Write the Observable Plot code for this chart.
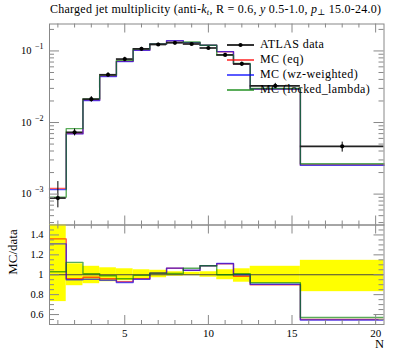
<!DOCTYPE html>
<html><head><meta charset="utf-8">
<script src="https://cdn.jsdelivr.net/npm/d3@7"></script>
<script src="https://cdn.jsdelivr.net/npm/@observablehq/plot@0.6"></script>
<style>
body{margin:0;background:#fff;}
#wrap{position:relative;width:397px;height:358px;overflow:hidden;font-family:"Liberation Serif","DejaVu Serif",serif;color:#000;}
#title{position:absolute;left:50px;top:2px;font-size:12px;letter-spacing:0.25px;white-space:nowrap;}
#title sub{font-size:8.5px;vertical-align:-2px;line-height:0;}
.svgbox{position:absolute;left:0;}
.leg{position:absolute;left:227px;font-size:12px;letter-spacing:0.4px;white-space:nowrap;height:14px;line-height:14px;}
.leg svg{vertical-align:middle;margin-right:6px;}
</style></head>
<body><div id="wrap">
<div id="title">Charged jet multiplicity (anti-<i>k<sub>t</sub></i>, R = 0.6, <i>y</i> 0.5-1.0, <i>p</i><sub>⊥</sub> 15.0-24.0)</div>
</div>
<script>
// ---- data ----
const binLo  = [0.5,1.5,2.5,3.5,4.5,5.5,6.5,7.5,8.5,9.5,10.5,11.5,12.5,15.5];
const binHi  = [1.5,2.5,3.5,4.5,5.5,6.5,7.5,8.5,9.5,10.5,11.5,12.5,15.5,20.5];
const binMid = [1,2,3,4,5,6,7,8,9,10,11,12,14,18];
const atlas        = [8.8e-4,7.3e-3,0.0212,0.0465,0.077,0.107,0.123,0.130,0.125,0.110,0.088,0.066,0.0325,0.00465];
const atlasErrDown = [0.27,0.11,0.09,0.07,0.06,0.045,0.03,0.015,0.01,0.025,0.05,0.075,0.085,0.17]; // relative
const atlasErrUp   = [0.70,0.11,0.085,0.07,0.06,0.05,0.045,0.03,0.025,0.03,0.05,0.06,0.085,0.145]; // relative
const mcEq     = [1.197e-3,7.01e-3,0.02067,0.04464,0.07161,0.1027,0.1250,0.1385,0.1305,0.1199,0.0977,0.0650,0.02925,0.002558];
const mcWz     = [1.153e-3,6.935e-3,0.02025,0.04394,0.0710,0.1022,0.1250,0.1387,0.1306,0.1199,0.0979,0.0660,0.02941,0.002534];
const mcLocked = [9.06e-4,8.21e-3,0.02141,0.04604,0.07392,0.1063,0.1250,0.1316,0.1331,0.1199,0.0880,0.0667,0.0299,0.00265];
const seriesNames = ["ATLAS data","MC (eq)","MC (wz-weighted)","MC (locked_lambda)"];
const seriesColors = ["#000000","#ff0000","#0000ff","#008000"];
const xTickMajor = [5,10,15,20];
const ratioTicks = [0.6,0.8,1,1.2,1.4];

// ---- helpers ----
const bins = binMid.map((m,i)=>({lo:binLo[i],hi:binHi[i],mid:m,v:atlas[i],
  dn:atlas[i]*(1-atlasErrDown[i]), up:atlas[i]*(1+atlasErrUp[i]),
  rdn:1-atlasErrDown[i], rup:1+atlasErrUp[i]}));
function steps(vals, ratio){
  const pts=[];
  vals.forEach((v,i)=>{const y = ratio? v/atlas[i] : v; pts.push({x:binLo[i],y},{x:binHi[i],y});});
  return pts;
}
const mcSeries = [[mcEq,seriesColors[1]],[mcWz,seriesColors[2]],[mcLocked,seriesColors[3]]];
const W=397, mL=49, mR=13.5, FW=W-mL-mR;
const tickC="#888";
const FONT="Liberation Serif, DejaVu Serif, serif";
function xTicks(vals,len,FH){
  return [Plot.ruleX(vals,{x:d=>d,insetTop:FH-len,stroke:tickC,strokeWidth:1}),
          Plot.ruleX(vals,{x:d=>d,insetBottom:FH-len,stroke:tickC,strokeWidth:1})];
}
function yTicks(vals,len){
  return [Plot.ruleY(vals,{y:d=>d,insetRight:FW-len,stroke:tickC,strokeWidth:1}),
          Plot.ruleY(vals,{y:d=>d,insetLeft:FW-len,stroke:tickC,strokeWidth:1})];
}
const xMinor = d3.range(1,21).filter(d=>d%5!==0);

// ---- main panel ----
const mainH=225, mainT=23.5, mainB=0.5, mainFH=mainH-mainT-mainB;
const yDom=[3.7e-4,0.238];
const decades=[1e-3,1e-2,1e-1];
const yMinorMain=[];
for(let e=-4;e<=-1;e++) for(let m=2;m<=9;m++){const v=m*Math.pow(10,e); if(v>yDom[0]&&v<yDom[1]) yMinorMain.push(v);}
const main = Plot.plot({
  width:W, height:mainH, marginTop:mainT, marginBottom:mainB, marginLeft:mL, marginRight:mR,
  x:{domain:[0.5,20.5],axis:null},
  y:{type:"log",domain:yDom,axis:null},
  style:{background:"transparent",fontFamily:FONT,overflow:"visible"},
  marks:[
    ...mcSeries.map(([vals,c])=>Plot.line(steps(vals,false),{x:"x",y:"y",stroke:c,strokeWidth:1.4,strokeOpacity:0.65})),
    Plot.ruleY(bins,{x1:"lo",x2:"hi",y:"v",stroke:"#222",strokeWidth:1.7}),
    Plot.ruleX(bins,{x:"mid",y1:"dn",y2:"up",stroke:"#000",strokeWidth:1}),
    Plot.dot(bins,{x:"mid",y:"v",r:2.1,fill:"#000",stroke:"none"}),
    ...xTicks(xMinor,4,mainFH), ...xTicks(xTickMajor,9,mainFH),
    ...yTicks(yMinorMain,5), ...yTicks(decades,10),
    Plot.frame({stroke:tickC,strokeWidth:1}),
    Plot.text(decades,{y:d=>d,frameAnchor:"left",dx:-18,textAnchor:"end",text:()=>"10",fontSize:10.5}),
    Plot.text(decades,{y:d=>d,frameAnchor:"left",dx:-6,dy:-4.5,textAnchor:"end",text:d=>"\u2212"+Math.round(-Math.log10(d)),fontSize:8})
  ]
});
main.classList.add("svgbox"); main.style.top="0px";
document.getElementById("wrap").appendChild(main);

// ---- ratio panel ----
const rTop=224, rH=358-rTop, rMT=0.5, rMB=34, rFH=rH-rMT-rMB;
const rMinor=d3.range(0.55,1.5,0.05).map(d=>+d.toFixed(2)).filter(d=>Math.round(d*100)%20!==0);
const ratio = Plot.plot({
  width:W, height:rH, marginTop:rMT, marginBottom:rMB, marginLeft:mL, marginRight:mR,
  x:{domain:[0.5,20.5],axis:null},
  y:{domain:[0.5,1.5],axis:null},
  style:{background:"transparent",fontFamily:FONT,overflow:"visible"},
  marks:[
    Plot.rect(bins,{x1:"lo",x2:"hi",y1:"rdn",y2:"rup",fill:"#ffff00",clip:true}),
    Plot.ruleY([1],{stroke:"#444",strokeWidth:1}),
    ...mcSeries.map(([vals,c])=>Plot.line(steps(vals,true),{x:"x",y:"y",stroke:c,strokeWidth:1.4,strokeOpacity:0.65,clip:true})),
    ...xTicks(xMinor,4,rFH), ...xTicks(xTickMajor,9,rFH),
    ...yTicks(rMinor,5), ...yTicks(ratioTicks,10),
    Plot.frame({stroke:tickC,strokeWidth:1}),
    Plot.text(ratioTicks,{y:d=>d,frameAnchor:"left",dx:-6,textAnchor:"end",text:d=>d===1?"1":d.toFixed(1),fontSize:10.5}),
    Plot.text(xTickMajor,{x:d=>d,frameAnchor:"bottom",dy:12,text:d=>String(d),fontSize:11}),
    Plot.text(["N"],{frameAnchor:"bottom-right",dy:23,textAnchor:"end",text:d=>d,fontSize:12.5}),
    Plot.text(["MC/data"],{frameAnchor:"left",dx:-37,rotate:-90,text:d=>d,fontSize:13})
  ]
});
ratio.classList.add("svgbox"); ratio.style.top=rTop+"px";
document.getElementById("wrap").appendChild(ratio);

// ---- legend ----
const legTops=[44,59,74,89];
seriesNames.forEach((name,i)=>{
  const div=document.createElement("div");
  div.className="leg"; div.style.top=(legTops[i]-7)+"px";
  const dot = i===0 ? `<circle cx="13.5" cy="5" r="2.1" fill="#000"/>` : "";
  div.innerHTML=`<svg width="27" height="10"><line x1="0" x2="27" y1="5" y2="5" stroke="${seriesColors[i]}" stroke-width="${i===0?1.6:1.3}"/>${dot}</svg>${name}`;
  document.getElementById("wrap").appendChild(div);
});
</script>
</body></html>
